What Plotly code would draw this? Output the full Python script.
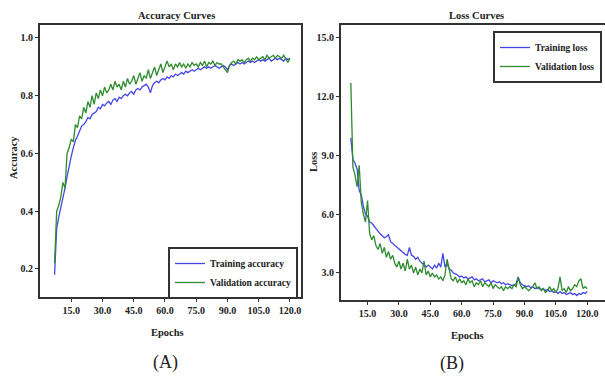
import plotly.graph_objects as go

epochs = list(range(7, 121))

train_acc = [0.18, 0.34, 0.38, 0.41, 0.44, 0.48, 0.52, 0.56, 0.59, 0.62,
             0.645, 0.66, 0.68, 0.695, 0.70, 0.71, 0.725, 0.72, 0.735, 0.74,
             0.745, 0.76, 0.755, 0.77, 0.765, 0.775, 0.78, 0.77, 0.785, 0.79,
             0.78, 0.795, 0.79, 0.80, 0.805, 0.80, 0.81, 0.815, 0.805, 0.82,
             0.825, 0.82, 0.83, 0.835, 0.84, 0.83, 0.81, 0.835, 0.845, 0.85,
             0.845, 0.855, 0.86, 0.855, 0.865, 0.86, 0.87, 0.865, 0.875, 0.87,
             0.875, 0.88, 0.875, 0.885, 0.88, 0.885, 0.89, 0.885, 0.89, 0.895,
             0.89, 0.895, 0.90, 0.895, 0.90, 0.895, 0.90, 0.905, 0.90, 0.895,
             0.90, 0.905, 0.90, 0.89, 0.905, 0.91, 0.905, 0.91, 0.915, 0.91,
             0.915, 0.91, 0.915, 0.92, 0.915, 0.92, 0.915, 0.92, 0.925, 0.92,
             0.925, 0.92, 0.925, 0.93, 0.92, 0.925, 0.93, 0.925, 0.93, 0.925,
             0.92, 0.93, 0.925, 0.93]

val_acc = [0.22, 0.40, 0.42, 0.45, 0.50, 0.48, 0.60, 0.62, 0.65, 0.64,
           0.70, 0.69, 0.73, 0.72, 0.76, 0.74, 0.78, 0.76, 0.80, 0.77,
           0.81, 0.79, 0.82, 0.80, 0.83, 0.81, 0.82, 0.84, 0.82, 0.85,
           0.83, 0.84, 0.82, 0.85, 0.83, 0.86, 0.84, 0.85, 0.87, 0.84,
           0.86, 0.88, 0.85, 0.87, 0.86, 0.89, 0.86, 0.88, 0.90, 0.87,
           0.89, 0.91, 0.88, 0.90, 0.92, 0.90, 0.91, 0.89, 0.91, 0.90,
           0.915, 0.90, 0.91, 0.895, 0.91, 0.90, 0.915, 0.905, 0.91, 0.90,
           0.915, 0.905, 0.92, 0.90, 0.915, 0.91, 0.92, 0.905, 0.915, 0.91,
           0.91, 0.90, 0.89, 0.88, 0.905, 0.915, 0.92, 0.91, 0.925, 0.92,
           0.925, 0.915, 0.925, 0.93, 0.92, 0.93, 0.925, 0.935, 0.925, 0.93,
           0.935, 0.925, 0.94, 0.93, 0.935, 0.94, 0.93, 0.94, 0.935, 0.93,
           0.94, 0.925, 0.915, 0.93]

train_loss = [9.9, 8.8, 8.6, 8.3, 7.2, 7.0, 6.4, 6.0, 5.9, 5.6,
              5.55, 5.4, 5.3, 5.1, 5.0, 4.9, 4.8, 4.85, 4.95, 4.6,
              4.5, 4.4, 4.35, 4.2, 4.1, 4.0, 3.95, 3.9, 4.3, 3.9,
              3.85, 3.7, 3.8, 3.6, 3.5, 3.45, 3.3, 3.4, 3.3, 3.2,
              3.4, 3.25, 3.5, 3.3, 4.0, 3.3, 3.5, 3.2, 3.15, 3.0,
              2.95, 2.9, 2.8, 2.85, 2.75, 2.8, 2.7, 2.75, 2.8, 2.65,
              2.7, 2.6, 2.65, 2.7, 2.55, 2.6, 2.65, 2.5, 2.6, 2.55,
              2.5, 2.55, 2.45, 2.5, 2.4, 2.45, 2.4, 2.35, 2.4, 2.45,
              2.8, 2.5, 2.4, 2.35, 2.3, 2.35, 2.25, 2.3, 2.2, 2.25,
              2.2, 2.15, 2.2, 2.1, 2.15, 2.05, 2.1, 2.0, 2.05, 1.95,
              2.05, 1.95, 2.0, 1.9, 1.95, 2.0, 1.9, 1.95, 1.85, 1.95,
              1.9, 2.0, 1.95, 2.05]

val_loss = [12.7, 8.4, 8.0, 7.4, 8.5, 6.6, 6.0, 5.6, 6.7, 5.0,
            4.7, 4.9, 4.4, 4.2, 4.5, 4.0, 4.3, 3.8, 4.1, 3.7,
            3.9, 3.5, 3.3, 3.6, 3.2, 3.5, 3.1, 3.7, 3.2, 3.4,
            3.0, 3.3, 2.9, 3.2, 3.0, 3.6, 2.9, 3.1, 2.8, 3.0,
            2.8, 2.9, 2.7, 2.8, 2.6, 2.9, 3.7, 3.1, 2.7, 2.6,
            2.8, 2.5, 2.7, 2.5, 2.6, 2.4, 2.7, 2.5, 2.6, 2.3,
            2.5, 2.4, 2.6, 2.3, 2.5, 2.4, 2.3, 2.5, 2.2, 2.4,
            2.3, 2.2, 2.3, 2.1, 2.3, 2.2, 2.3, 2.2, 2.4, 2.3,
            2.75, 2.4, 2.2, 2.3, 2.2, 2.1, 2.2, 2.3, 2.5, 2.2,
            2.3, 2.1, 2.2, 2.0, 2.1, 2.3, 2.1, 2.2, 2.0, 2.2,
            2.8, 2.1, 2.2, 2.0, 2.3, 2.1, 2.2, 2.4, 2.3, 2.6,
            2.7, 2.2, 2.3, 2.2]

x_ticks = [15, 30, 45, 60, 75, 90, 105, 120]
acc_ticks = [0.2, 0.4, 0.6, 0.8, 1.0]
loss_ticks = [3, 6, 9, 12, 15]

BLUE = "#4646e6"
GREEN = "#2e8b2e"
FONT = "Liberation Serif"
W, H = 605, 384

fig = go.Figure()
fig.add_trace(go.Scatter(x=epochs, y=train_acc, mode="lines", name="<b>Training accuracy</b>",
                         line=dict(color=BLUE, width=1.3), xaxis="x", yaxis="y", legend="legend"))
fig.add_trace(go.Scatter(x=epochs, y=val_acc, mode="lines", name="<b>Validation accuracy</b>",
                         line=dict(color=GREEN, width=1.3), xaxis="x", yaxis="y", legend="legend"))
fig.add_trace(go.Scatter(x=epochs, y=train_loss, mode="lines", name="<b>Training loss</b>",
                         line=dict(color=BLUE, width=1.3), xaxis="x2", yaxis="y2", legend="legend2"))
fig.add_trace(go.Scatter(x=epochs, y=val_loss, mode="lines", name="<b>Validation loss</b>",
                         line=dict(color=GREEN, width=1.3), xaxis="x2", yaxis="y2", legend="legend2"))

axis_common = dict(showline=True, linecolor="#333333", linewidth=2, showgrid=False, zeroline=False,
                   ticks="outside", ticklen=3, tickwidth=1, tickcolor="#333333",
                   tickfont=dict(family=FONT, size=10, color="#222222", weight="bold"))

legend_common = dict(xanchor="right", yanchor="top", bgcolor="white", bordercolor="#333333",
                     borderwidth=2, itemwidth=30, tracegroupgap=0,
                     font=dict(family=FONT, size=9.5, color="#222222"))

fig.update_layout(
    width=W, height=H, margin=dict(l=0, r=0, t=0, b=0),
    paper_bgcolor="white", plot_bgcolor="white",
    xaxis=dict(domain=[40 / W, 301 / W], range=[0, 125.3], tickvals=x_ticks, tickformat=".1f",
               mirror=True, anchor="y", **axis_common),
    yaxis=dict(domain=[(H - 297) / H, (H - 25) / H], range=[0.103, 1.045], tickvals=acc_ticks,
               tickformat=".1f", mirror=True, anchor="x", **axis_common),
    xaxis2=dict(domain=[341 / W, 1.0], range=[2.3, 128.5], tickvals=x_ticks, tickformat=".1f",
                mirror=True, anchor="y2", **axis_common),
    yaxis2=dict(domain=[(H - 300) / H, (H - 25) / H], range=[1.62, 15.66], tickvals=loss_ticks,
                tickformat=".1f", mirror=False, anchor="x2", **axis_common),
    legend=dict(x=298 / W, y=(H - 247) / H, **legend_common),
    legend2=dict(x=602 / W, y=(H - 31) / H, **legend_common),
    showlegend=True,
)

def ann(text, x, y, size=11, bold=True, angle=0):
    fig.add_annotation(text=f"<b>{text}</b>" if bold else text, x=x / W, y=(H - y) / H,
                       xref="paper", yref="paper", showarrow=False, textangle=angle,
                       font=dict(family=FONT, size=size, color="#222222"),
                       xanchor="center", yanchor="middle")

ann("Accuracy Curves", 176, 15, size=10.5)
ann("Loss Curves", 476, 15, size=10.5)
ann("Epochs", 167, 332, size=10.5)
ann("Epochs", 467, 335, size=10.5)
ann("Accuracy", 13, 158, size=10.5, angle=-90)
ann("Loss", 313, 162, size=10.5, angle=-90)
ann("(A)", 165, 362, size=18, bold=False)
ann("(B)", 452, 363, size=18, bold=False)

fig.write_html("out.html", config={"displayModeBar": False},
               post_script="document.body.style.margin='0px';")
